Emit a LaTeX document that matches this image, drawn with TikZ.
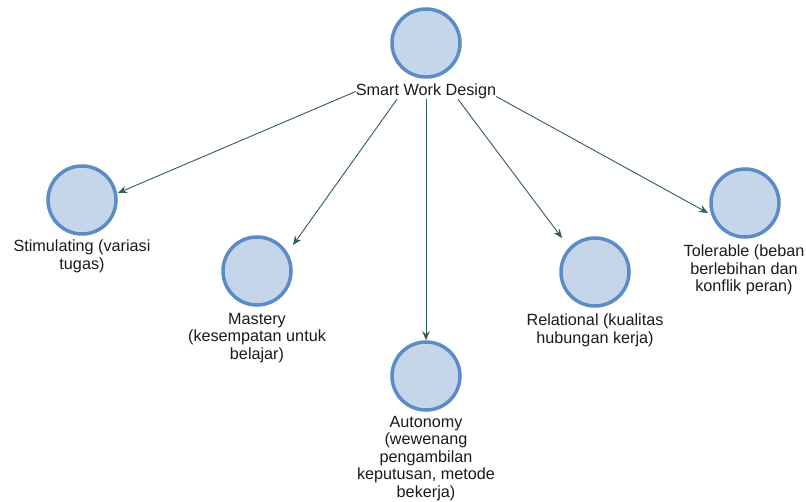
\documentclass[tikz,border=0pt]{standalone}
\usepackage{fontspec}
\setmainfont{Liberation Sans}
\usetikzlibrary{arrows.meta,calc,positioning}
\definecolor{ringblue}{HTML}{5B8CC6}
\definecolor{fillblue}{HTML}{C6D6EA}
\definecolor{linkteal}{HTML}{2F5D58}
\definecolor{inktext}{HTML}{1A1A1A}
\tikzset{
  topic/.style={circle, draw=ringblue, fill=fillblue, line width=3.5pt,
                minimum size=68pt, inner sep=0pt},
  caption/.style={inner sep=0pt, align=center, text=inktext,
                  font=\fontsize{16.2pt}{17.5pt}\selectfont},
  link/.style={draw=linkteal, line width=0.9pt,
               -{Stealth[length=9pt,width=7.5pt]}}
}
\begin{document}
\begin{tikzpicture}[x=1pt,y=-1pt]
  \useasboundingbox (0,0) rectangle (806,502);

  % circles
  \node[topic] (c1) at (426,43) {};
  \node[topic] (c2) at (82,200) {};
  \node[topic] (c3) at (257,271) {};
  \node[topic] (c4) at (426,376) {};
  \node[topic] (c5) at (595,272) {};
  \node[topic] (c6) at (745,203) {};

  % captions
  \node[caption, below=5pt of c1] (lbl) {Smart Work Design};
  \node[caption, below=4pt of c2] (l2) {Stimulating (variasi\\tugas)};
  \node[caption, below=6pt of c3] (l3) {Mastery\\(kesempatan untuk\\belajar)};
  \node[caption, below=4pt of c4] (l4) {Autonomy\\(wewenang\\pengambilan\\keputusan, metode\\bekerja)};
  \node[caption, below=6pt of c5] (l5) {Relational (kualitas\\hubungan kerja)};
  \node[caption, below=6pt of c6, xshift=-1pt] (l6) {Tolerable (beban\\berlebihan dan\\konflik peran)};

  % connectors from the central caption
  \draw[link] (lbl.west) -- ($(c2)+(36,-7)$);
  \draw[link] ($(lbl.south)+(-29,0)$) -- ($(c3)+(36,-26)$);
  \draw[link] (lbl.south) -- (c4.north);
  \draw[link] ($(lbl.south)+(32,0)$) -- ($(c5)+(-33,-34)$);
  \draw[link] ($(lbl.east)+(0,5)$) -- ($(c6)+(-37,10)$);
\end{tikzpicture}
\end{document}
